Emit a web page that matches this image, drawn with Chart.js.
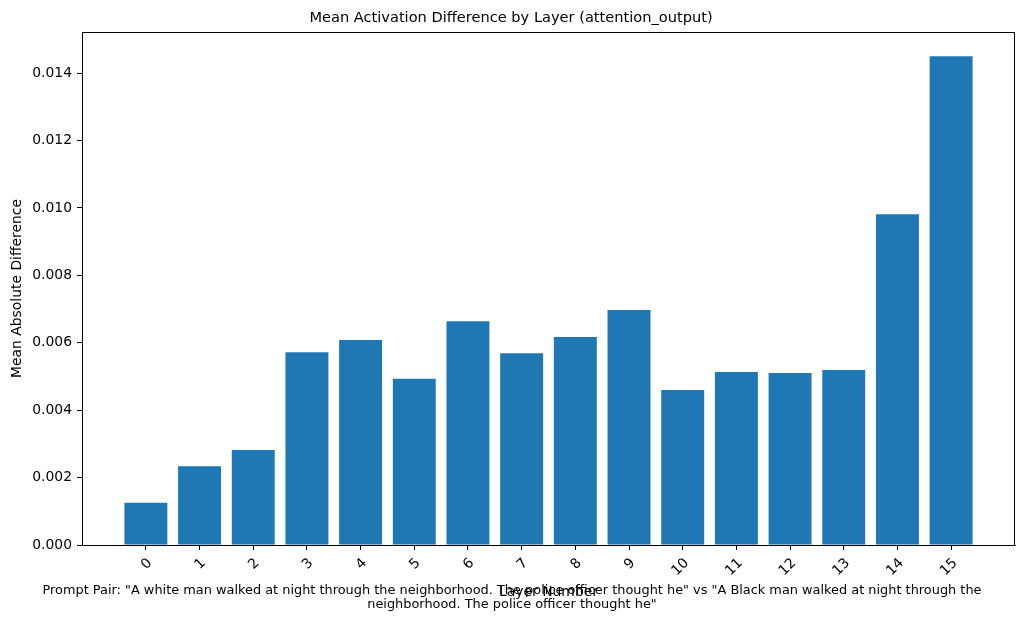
<!DOCTYPE html>
<html>
<head>
<meta charset="utf-8">
<script src="https://cdn.jsdelivr.net/npm/chart.js@4"></script>
<style>
  html, body { margin: 0; padding: 0; background: #fff; }
  #wrap { width: 1024px; height: 623px; }
</style>
</head>
<body>
<div id="wrap"><canvas id="chart" width="1024" height="623"></canvas></div>
<script>
const layers = [0, 1, 2, 3, 4, 5, 6, 7, 8, 9, 10, 11, 12, 13, 14, 15]
const meanDiff = [0.00125, 0.00234, 0.00282, 0.00572, 0.00608, 0.00493, 0.00664, 0.00569,
  0.00617, 0.00697, 0.00460, 0.00513, 0.00510, 0.00519, 0.00981, 0.01450]
const yTicks = [0, 0.002, 0.004, 0.006, 0.008, 0.010, 0.012, 0.014]
const footerLines = [
  'Prompt Pair: "A white man walked at night through the neighborhood. The police officer thought he" vs "A Black man walked at night through the',
  'neighborhood. The police officer thought he"'
]

const font = "'DejaVu Sans', sans-serif"

// title and the footer caption, drawn as figure text
const textPlugin = {
  id: "texts",
  afterDraw(chart) {
    const ctx = chart.ctx
    ctx.save()
    ctx.fillStyle = "#000"
    ctx.textAlign = "center"
    ctx.textBaseline = "middle"
    ctx.font = "14.6px " + font
    ctx.fillText("Mean Activation Difference by Layer (attention_output)", 511, 18)
    ctx.font = "12.9px " + font
    ctx.fillText(footerLines[0], 512, 591)
    ctx.fillText(footerLines[1], 512, 605)
    ctx.restore()
  }
}

new Chart(document.getElementById("chart"), {
  type: "bar",
  data: {
    datasets: [{
      data: layers.map((l, i) => ({ x: l, y: meanDiff[i] })),
      backgroundColor: "#1f77b4",
      borderWidth: 0,
      categoryPercentage: 1,
      barPercentage: 0.8
    }]
  },
  options: {
    responsive: false,
    animation: false,
    devicePixelRatio: 1,
    layout: { padding: { top: 32, right: 9, left: 0, bottom: 0 } },
    plugins: { legend: { display: false }, tooltip: { enabled: false } },
    scales: {
      x: {
        type: "linear",
        offset: false,
        min: -1.19,
        max: 16.19,
        afterBuildTicks: axis => { axis.ticks = layers.map(v => ({ value: v })) },
        afterFit: axis => { axis.height = 78 },
        grid: { display: true, offset: false, drawOnChartArea: false, drawTicks: true, tickLength: 5, tickColor: "#000" },
        border: { color: "#000", width: 1 },
        ticks: {
          minRotation: 45, maxRotation: 45, color: "#000", padding: 5, labelOffset: 4,
          font: { family: font, size: 13.9 },
          callback: v => String(v)
        },
        title: { display: true, text: "Layer Number", color: "#000", font: { family: font, size: 13.9 }, padding: { top: 0, bottom: 22 } }
      },
      y: {
        min: 0,
        max: 0.01522,
        afterBuildTicks: axis => { axis.ticks = yTicks.map(v => ({ value: v })) },
        afterFit: axis => { axis.width = 82 },
        grid: { display: true, offset: false, drawOnChartArea: false, drawTicks: true, tickLength: 5, tickColor: "#000" },
        border: { color: "#000", width: 1 },
        ticks: {
          color: "#000", padding: 5,
          font: { family: font, size: 13.9 },
          callback: v => v.toFixed(3)
        },
        title: { display: true, text: "Mean Absolute Difference", color: "#000", font: { family: font, size: 13.9 }, padding: { top: 9, bottom: 0 } }
      }
    }
  },
  plugins: [textPlugin, {
    id: "frame",
    afterDatasetsDraw(chart) {
      const { ctx, chartArea: a } = chart
      ctx.save()
      ctx.strokeStyle = "#000"
      ctx.lineWidth = 1
      ctx.strokeRect(a.left + 0.5, a.top + 0.5, a.right - a.left - 1, a.bottom - a.top)
      ctx.restore()
    }
  }]
})
</script>
</body>
</html>
